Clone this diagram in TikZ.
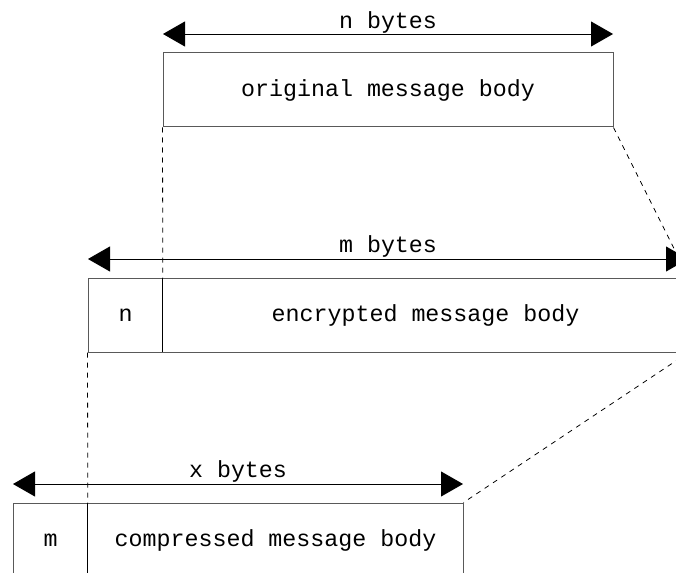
\documentclass[tikz,border=0pt]{standalone}
\usepackage{fontspec}
\setmonofont{Liberation Mono}
\usetikzlibrary{arrows.meta}
\begin{document}
\begin{tikzpicture}[x=1pt,y=-1pt,
  box/.style={draw=black!65, line width=1pt, rectangle, inner sep=0pt, font=\ttfamily\fontsize{23.3}{28}\selectfont},
  cell/.style={rectangle, inner sep=0pt, font=\ttfamily\fontsize{23.3}{28}\selectfont},
  lbl/.style={inner sep=0pt, font=\ttfamily\fontsize{23.3}{28}\selectfont},
  divider/.style={draw=black, line width=0.8pt},
  dim/.style={draw=black, line width=0.8pt, {Triangle[length=22pt,width=25pt]}-{Triangle[length=22pt,width=25pt]}},
  dashline/.style={draw=black, line width=0.8pt, dash pattern=on 5pt off 5pt}]
\clip (0,0) rectangle (676,572);
% top
\node[box, minimum width=450, minimum height=74] (orig) at (388,90) {original message body};
\coordinate (a1l) at (163,34);
\coordinate (a1r) at (613,34);
\draw[dim] (a1l) -- (a1r);
\node[lbl] (l1) at (388,22) {n bytes};
% middle
\node[box, minimum width=600, minimum height=74] (mid) at (388,315) {};
\node[cell, minimum width=75, minimum height=74] (ncell) at (125.5,315) {n};
\node[cell, minimum width=525, minimum height=74] (enc) at (425.5,315) {encrypted message body};
\draw[divider] (enc.north west) -- (enc.south west);
\coordinate (a2l) at (88,259);
\coordinate (a2r) at (688,259);
\draw[dim] (a2l) -- (a2r);
\node[lbl] (l2) at (388,246) {m bytes};
% bottom
\node[box, minimum width=450, minimum height=74] (cbox) at (238,540) {};
\node[cell, minimum width=75, minimum height=74] (mcell) at (50.5,540) {m};
\node[cell, minimum width=375, minimum height=74] (comp) at (275.5,540) {compressed message body};
\draw[divider] (comp.north west) -- (comp.south west);
\coordinate (a3l) at (13,484);
\coordinate (a3r) at (463,484);
\draw[dim] (a3l) -- (a3r);
\node[lbl] (l3) at (238,471) {x bytes};
% dashed projections
\draw[dashline] (orig.south west) -- (enc.north west);
\draw[dashline] (orig.south east) -- (mid.north east);
\draw[dashline] (mid.south west) -- (comp.north west);
\draw[dashline] (mid.south east) -- (cbox.north east);
\end{tikzpicture}
\end{document}
